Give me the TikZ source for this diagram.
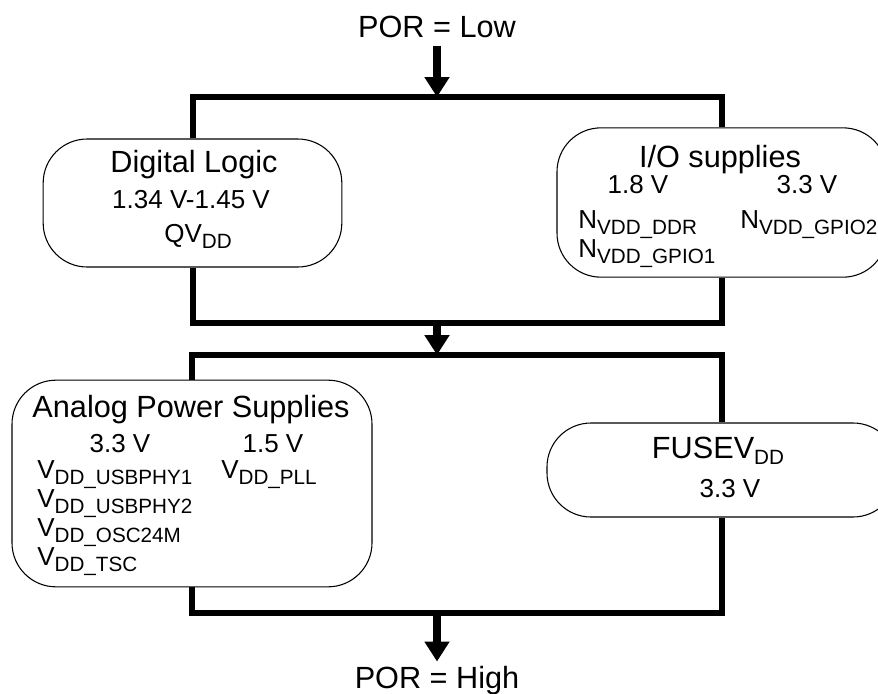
\documentclass[tikz,border=0pt]{standalone}
\usepackage{fontspec}
\setmainfont{Liberation Sans}
\usetikzlibrary{arrows.meta,positioning}

% lowered, smaller text for supply names
\newcommand{\dn}[1]{\raisebox{-5pt}{\fontsize{15.5}{18}\selectfont #1}}

\begin{document}
\begin{tikzpicture}[
    x=0.75pt, y=-0.75pt,
    every node/.style={font=\fontsize{19.5}{23}\selectfont, inner sep=0pt},
    title/.style={font=\fontsize{23}{27}\selectfont},
    stage/.style={
        draw, line width=0.8pt, rounded corners=33pt,
        inner sep=0pt
    },
    bus/.style={line width=4.5pt},
    flow/.style={line width=5.5pt, -{Triangle[length=15pt,width=18pt]}}
]
\useasboundingbox (0,0) rectangle (878,693);
\clip (0,0) rectangle (878,693);

% --- Stages (boxes)
\node[stage, minimum width=224pt, minimum height=96pt]   (dig)  at (192.5,203) {};
\node[stage, minimum width=247.5pt, minimum height=112pt] (io)  at (722,202.5) {};
\node[stage, minimum width=270pt, minimum height=155pt]  (ana)  at (192,483.5) {};
\node[stage, minimum width=262.5pt, minimum height=70.5pt] (fuse) at (722,470) {};

% --- Fork / join points on the bars
\coordinate (fork1) at (437,97);
\coordinate (join1) at (437,323);
\coordinate (fork2) at (437,355);
\coordinate (join2) at (437,613);

% Start and end labels
\node[title, anchor=base] (low)  at (437,37)  {POR = Low};
\node[title, anchor=base] (high) at (437,688) {POR = High};

% Bars
\draw[bus] (dig.north) |- (fork1) -| (io.north);
\draw[bus] (dig.south) |- (join1) -| (io.south);
\draw[bus] (ana.north) |- (fork2) -| (fuse.north);
\draw[bus] (ana.south) |- (join2) -| (fuse.south);

% Arrows
\draw[flow] ([yshift=-6pt]low.south) -- (fork1);
\draw[flow] (join1) -- (fork2);
\draw[flow] (join2) -- ([yshift=3pt]high.north);

% Digital Logic
\node[title, anchor=base] (digT) at (194,172) {Digital Logic};
\node[anchor=base] (digV) at (191,208) {1.34 V-1.45 V};
\node[anchor=base] (digS) at (198,242) {QV\dn{DD}};

% I/O supplies
\node[title, anchor=base] (ioT) at (720,167) {I/O supplies};
\node[anchor=base] (ioA) at (638,193) {1.8 V};
\node[anchor=base] (ioB) at (807,193) {3.3 V};
\node[anchor=base west] (ioA1) at (578,228) {N\dn{VDD\_DDR}};
\node[anchor=base west] (ioA2) at (578,257) {N\dn{VDD\_GPIO1}};
\node[anchor=base west] (ioB1) at (740,228) {N\dn{VDD\_GPIO2}};

% Analog Power Supplies
\node[title, anchor=base] (anaT) at (191,417) {Analog Power Supplies};
\node[anchor=base] (anaA) at (120,452) {3.3 V};
\node[anchor=base] (anaB) at (273,452) {1.5 V};
\foreach \i/\s/\y in {1/USBPHY1/478, 2/USBPHY2/507, 3/OSC24M/536, 4/TSC/565}
  \node[anchor=base west] (anaA\i) at (37,\y) {V\dn{DD\_\s}};
\node[anchor=base west] (anaB1) at (221,478) {V\dn{DD\_PLL}};

% FUSEVDD
\node[title, anchor=base] (fuseT) at (718,458) {FUSEV\dn{DD}};
\node[anchor=base] (fuseV) at (730,497) {3.3 V};
\end{tikzpicture}
\end{document}
